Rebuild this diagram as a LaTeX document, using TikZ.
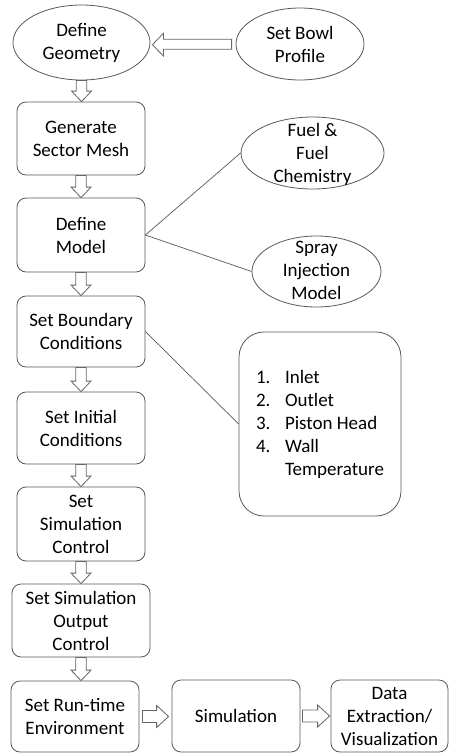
\documentclass[tikz,border=0pt]{standalone}
\usepackage{fontspec}
\setmainfont{Carlito}
\usetikzlibrary{shapes.geometric,calc}
\tikzset{
  base/.style={draw=black!65, line width=0.8pt, font=\fontsize{19}{23}\selectfont, align=center, inner sep=0pt},
  rbox/.style={base, rectangle, rounded corners=9pt},
  ell/.style={base, ellipse},
  blk/.style={draw=black!60, line width=0.8pt, fill=white, line join=miter},
  conn/.style={draw=black!65, line width=0.7pt}
}
\newcommand\vblk[2]{%
  \draw[blk] let \p1=(#1.south), \p2=(#2.north) in
    (\x1-5.3pt,\y1) -- (\x1-5.3pt,\y2+10.5pt) -- (\x1-10pt,\y2+10.5pt) -- (\x1,\y2)
    -- (\x1+10pt,\y2+10.5pt) -- (\x1+5.3pt,\y2+10.5pt) -- (\x1+5.3pt,\y1) -- cycle;}
% from east of #1 to west of #2 (rightward)
\newcommand\hblkr[4]{%
  \draw[blk] let \p1=(#1.east), \p2=(#2.west) in
    (\x1+#3,\y1+6pt) -- (\x2-#4-12pt,\y1+6pt) -- (\x2-#4-12pt,\y1+11pt) -- (\x2-#4,\y1)
    -- (\x2-#4-12pt,\y1-11pt) -- (\x2-#4-12pt,\y1-6pt) -- (\x1+#3,\y1-6pt) -- cycle;}
% from west of #1 to east of #2 (leftward)
\newcommand\hblkl[2]{%
  \draw[blk] let \p1=(#1.west), \p2=(#2.east) in
    (\x1-4pt,\y1+4.7pt) -- (\x2+13pt,\y1+4.7pt) -- (\x2+13pt,\y1+10.7pt) -- (\x2+2pt,\y1-0.7pt)
    -- (\x2+13pt,\y1-12pt) -- (\x2+13pt,\y1-5.3pt) -- (\x1-4pt,\y1-5.3pt) -- cycle;}
\begin{document}
\begin{tikzpicture}[x=1pt,y=-1pt]
\useasboundingbox (0,0) rectangle (449,753);
\fill[white] (0,0) rectangle (449,753);

\node[ell, minimum width=137pt, minimum height=75pt] (geo) at (81.5,42.5) {Define\\Geometry};
\node[ell, minimum width=128pt, minimum height=72pt] (bowl) at (300,44) {Set Bowl\\Profile};
\node[rbox, minimum width=128pt, minimum height=73pt] (gen) at (81,138.5) {Generate\\Sector Mesh};
\node[rbox, minimum width=128pt, minimum height=74pt] (model) at (81,235) {Define\\Model};
\node[ell, minimum width=143pt, minimum height=72pt,
  label={[base,draw=none,yshift=-1pt]center:Fuel \&\\Fuel\\Chemistry}] (fuel) at (312.5,153) {};
\node[ell, minimum width=129pt, minimum height=71pt,
  label={[base,draw=none,yshift=1pt]center:Spray\\Injection\\Model}] (spray) at (316.5,271.5) {};
\node[rbox, minimum width=128pt, minimum height=71pt] (bc) at (81,331.5) {Set Boundary\\Conditions};
\node[rbox, rounded corners=25pt, minimum width=162pt, minimum height=184pt, align=left] (list) at (320,424)
  {\makebox[29pt][l]{1.}Inlet\\\makebox[29pt][l]{2.}Outlet\\\makebox[29pt][l]{3.}Piston Head\\\makebox[29pt][l]{4.}Wall\\\hspace*{29pt}Temperature};
\node[rbox, minimum width=128pt, minimum height=72pt] (ic) at (81,428) {Set Initial\\Conditions};
\node[rbox, minimum width=128pt, minimum height=74pt] (sc) at (81,524) {Set\\Simulation\\Control};
\node[rbox, minimum width=138pt, minimum height=73pt] (soc) at (81,620.5) {Set Simulation\\Output\\Control};
\node[rbox, minimum width=128pt, minimum height=71pt] (rte) at (75,716.5) {Set Run-time\\Environment};
\node[rbox, minimum width=128pt, minimum height=72pt] (sim) at (236,716) {Simulation};
\node[rbox, minimum width=117pt, minimum height=72pt] (data) at (389.5,716) {Data\\Extraction/\\Visualization};

\hblkl{bowl}{geo}
\vblk{geo}{gen}
\vblk{gen}{model}
\vblk{model}{bc}
\vblk{bc}{ic}
\vblk{ic}{sc}
\vblk{sc}{soc}
\vblk{soc}{rte}
\hblkr{rte}{sim}{3pt}{3pt}
\hblkr{sim}{data}{2pt}{1pt}

\draw[conn] (model.east) -- (fuel.west);
\draw[conn] (model.east) -- (spray.west);
\draw[conn] (bc.east) -- (list.west);
\end{tikzpicture}
\end{document}
